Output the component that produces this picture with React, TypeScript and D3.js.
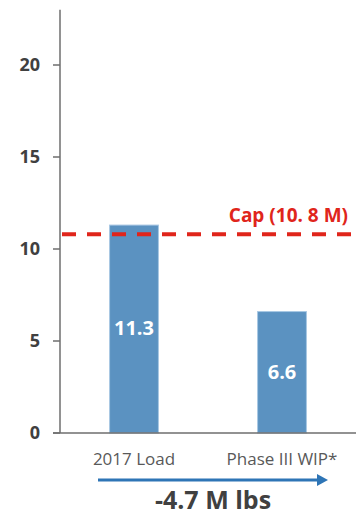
import React from "react";
import * as d3 from "d3";

// Nitrogen load (M lbs) for the baseline year vs. the Phase III WIP
const categories = ["2017 Load", "Phase III WIP*"];
const loads = [11.3, 6.6];
const capValue = 10.8;
const capLabel = "Cap (10. 8 M)";
const yTicks = [0, 5, 10, 15, 20];

const W = 356;
const H = 517;
const FONT = "'Open Sans', 'Noto Sans', sans-serif";

export default function App() {
  const y = d3.scaleLinear().domain([0, 23]).range([433, 433 - 23 * 18.4]);
  const x = d3.scaleBand<string>().domain(categories).range([60, 356]).padding(0);
  const barW = x.bandwidth() * 0.33;
  const cx = (c: string) => (x(c) as number) + x.bandwidth() / 2;

  const change = loads[1] - loads[0];
  const changeText = `${change.toFixed(1)} M lbs`;

  const arrowX0 = cx(categories[0]) - 36;
  const arrowX1 = cx(categories[1]) + 46;
  const arrowY = 480;

  return (
    <svg
      width={W}
      height={H}
      style={{ position: "absolute", left: 0, top: 0, background: "#fff" }}
      fontFamily={FONT}
    >
      {/* bars */}
      {categories.map((c, i) => (
        <g key={c}>
          <rect
            x={cx(c) - barW / 2}
            y={y(loads[i])}
            width={barW}
            height={y(0) - y(loads[i])}
            fill="#5b92c1"
            stroke="#a8c7e3"
            strokeWidth={1}
          />
          <text
            x={cx(c)}
            y={(y(loads[i]) + y(0)) / 2}
            dy="0.32em"
            textAnchor="middle"
            fill="#fff"
            fontWeight="bold"
            fontSize={20}
          >
            {loads[i].toFixed(1)}
          </text>
          <text
            x={cx(c)}
            y={465}
            textAnchor="middle"
            fill="#595959"
            fontSize={17}
          >
            {c}
          </text>
        </g>
      ))}

      {/* y axis */}
      <line x1={60} x2={60} y1={y(23)} y2={y(0)} stroke="#6e6e6e" strokeWidth={1.5} />
      {yTicks.map((t) => (
        <g key={t}>
          <line x1={53} x2={60} y1={y(t)} y2={y(t)} stroke="#6e6e6e" strokeWidth={1.5} />
          <text
            x={40}
            y={y(t)}
            dy="0.36em"
            textAnchor="end"
            fill="#404040"
            fontWeight="bold"
            fontSize={18}
          >
            {t}
          </text>
        </g>
      ))}
      {/* x axis */}
      <line x1={53} x2={356} y1={y(0)} y2={y(0)} stroke="#6e6e6e" strokeWidth={1.5} />

      {/* cap */}
      <line
        x1={62}
        x2={356}
        y1={y(capValue)}
        y2={y(capValue)}
        stroke="#e0251b"
        strokeWidth={4}
        strokeDasharray="14 11"
      />
      <text
        x={348}
        y={222}
        textAnchor="end"
        fill="#e0251b"
        fontWeight="bold"
        fontSize={19}
      >
        {capLabel}
      </text>

      {/* change arrow */}
      <line x1={arrowX0} x2={arrowX1 - 9} y1={arrowY} y2={arrowY} stroke="#2e75b6" strokeWidth={3} />
      <path
        d={`M${arrowX1},${arrowY} L${arrowX1 - 11},${arrowY - 6} L${arrowX1 - 11},${arrowY + 6} Z`}
        fill="#2e75b6"
      />
      <text
        x={213}
        y={509}
        textAnchor="middle"
        fill="#404040"
        fontWeight="bold"
        fontSize={25}
      >
        {changeText}
      </text>
    </svg>
  );
}
